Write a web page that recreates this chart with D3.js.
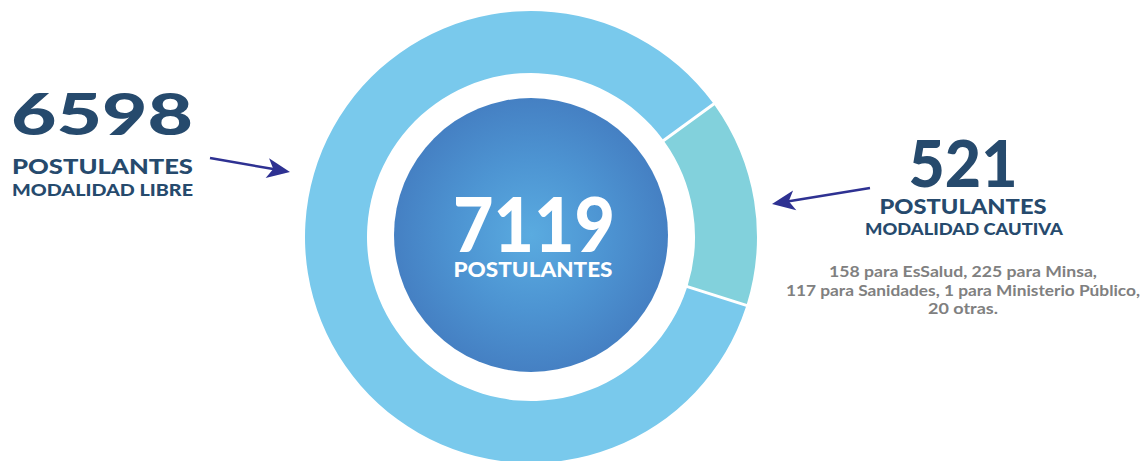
<!DOCTYPE html>
<html lang="es">
<head>
<meta charset="UTF-8">
<title>Postulantes</title>
<script src="https://d3js.org/d3.v7.min.js"></script>
<style>
    body { margin: 0; background: #fff; }
    svg text { font-family: Lato, "Open Sans", sans-serif; font-weight: 900; }
    .navy { fill: #264a6d; }
    .grey { fill: #808080; font-weight: 700; }
    .white { fill: #fff; }
</style>
</head>
<body>
<svg width="1142" height="461"></svg>
<script>
// data
const total = 7119;
const groups = ["MODALIDAD LIBRE", "MODALIDAD CAUTIVA"];
const counts = [6598, 521];
// share of the ring each group takes, as drawn in the picture
const ringShares = [85.1, 14.9];
const ringColors = ["#79c9ec", "#82d1dc"];
const detailLines = [
    "158 para EsSalud, 225 para Minsa,",
    "117 para Sanidades, 1 para Ministerio Público,",
    "20 otras."
];
const unitLabel = "POSTULANTES";

const svg = d3.select("svg");
const cx = 531, cy = 237;
const outerR = 226, innerR = 164, coreR = 137;

// ring
const startDeg = 107.6;
const pie = d3.pie().sort(null)
    .startAngle(startDeg * Math.PI / 180)
    .endAngle(startDeg * Math.PI / 180 + 2 * Math.PI);
const arc = d3.arc()
    .innerRadius(innerR)
    .outerRadius(outerR)
    .padAngle(3 / outerR)
    .padRadius(outerR);

const ring = svg.append("g").attr("transform", "translate(" + cx + "," + cy + ")");
ring.selectAll("path")
    .data(pie(ringShares))
    .enter().append("path")
    .attr("d", arc)
    .attr("fill", (d, i) => ringColors[i]);

// centre disc with radial gradient
const grad = svg.append("defs").append("radialGradient").attr("id", "core");
grad.append("stop").attr("offset", "0%").attr("stop-color", "#5aabe0");
grad.append("stop").attr("offset", "55%").attr("stop-color", "#4d94d2");
grad.append("stop").attr("offset", "100%").attr("stop-color", "#4580c3");

svg.append("circle")
    .attr("cx", cx).attr("cy", cy - 2).attr("r", coreR)
    .attr("fill", "url(#core)");

function label(x, y, txt, size, width, cls, anchor) {
    return svg.append("text")
        .attr("x", x).attr("y", y)
        .attr("class", cls)
        .attr("text-anchor", anchor || "middle")
        .attr("font-size", size)
        .attr("textLength", width)
        .attr("lengthAdjust", "spacingAndGlyphs")
        .text(txt);
}

// centre text
label(534, 252, d3.format("d")(total), 76, 162, "white");
label(533, 277, unitLabel, 21, 159, "white");

// left block
label(11, 135, counts[0], 57, 182, "navy", "start");
label(12, 174, unitLabel, 21, 181, "navy", "start");
label(12, 196, groups[0], 17, 181, "navy", "start");

// right block
label(963, 187, counts[1], 64, 109, "navy");
label(963, 214, unitLabel, 20, 167, "navy");
label(964, 235, groups[1], 16.5, 198, "navy");

const detailWidths = [268, 354, 70];
detailLines.forEach((t, i) => {
    label(963, 277 + i * 18.5, t, 14.5, detailWidths[i], "grey");
});

// arrows
function arrow(x1, y1, x2, y2) {
    const a = Math.atan2(y2 - y1, x2 - x1) * 180 / Math.PI;
    const len = Math.hypot(x2 - x1, y2 - y1);
    const g = svg.append("g")
        .attr("transform", "translate(" + x1 + "," + y1 + ") rotate(" + a + ")");
    g.append("line")
        .attr("x1", 0).attr("y1", 0).attr("x2", len - 14).attr("y2", 0)
        .attr("stroke", "#2e3192").attr("stroke-width", 2.6);
    g.append("path")
        .attr("d", "M" + len + ",0 L" + (len - 23) + ",-10 L" + (len - 17) + ",0 L" + (len - 23) + ",10 Z")
        .attr("fill", "#2e3192");
}
arrow(210, 158, 290, 172);
arrow(870, 188, 772, 204);
</script>
</body>
</html>
